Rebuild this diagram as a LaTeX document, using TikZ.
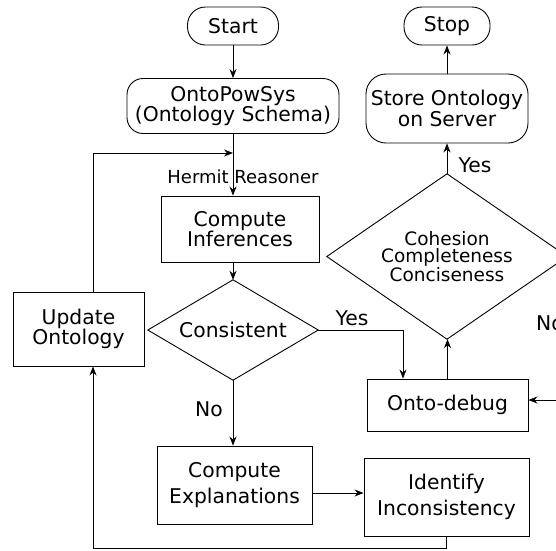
\documentclass[tikz,border=0pt]{standalone}
\usepackage{fontspec}
\setmainfont{DejaVu Sans}
\usetikzlibrary{arrows.meta}
\begin{document}
\begin{tikzpicture}[x=1pt,y=-1pt,
  every node/.style={font=\fontsize{20.3}{20.5}\selectfont, inner sep=0pt, align=center},
  term/.style={draw, line width=0.9pt, rounded corners=18pt},
  box/.style={draw, line width=0.9pt},
  decarea/.style={rectangle},
  edge/.style={line width=0.9pt, line join=miter},
  conn/.style={draw, line width=0.9pt, -{Stealth[length=9pt,width=7pt]}},
  lbl/.style={font=\fontsize{20.3}{20.5}\selectfont}
]
\path[use as bounding box, clip] (0,0) rectangle (556,550);

% nodes
\node[term, minimum width=91pt, minimum height=38pt] (start) at (233,26) {Start};
\node[term, rounded corners=16pt, minimum width=212pt, minimum height=55pt] (onto) at (233,106) {OntoPowSys\\(Ontology Schema)};
\node[box, minimum width=158pt, minimum height=66pt] (inf) at (240,229) {Compute\\Inferences};
\node[decarea, minimum width=170pt, minimum height=100pt] (cons) at (233,330) {Consistent};
\node[box, minimum width=131pt, minimum height=74pt] (upd) at (78.5,329) {Update\\Ontology};
\node[box, minimum width=155pt, minimum height=78pt, font=\fontsize{20.3}{26.5}\selectfont] (expl) at (234.5,485) {Compute\\Explanations};
\node[box, minimum width=165pt, minimum height=78pt, font=\fontsize{20.3}{26.5}\selectfont] (ident) at (446.5,497) {Identify\\Inconsistency};
\node[box, minimum width=161pt, minimum height=52pt] (debug) at (447.5,405) {Onto-debug};
\node[decarea, minimum width=240pt, minimum height=165pt, font=\fontsize{18.5}{17.5}\selectfont] (coh) at (447,256.5) {Cohesion\\Completeness\\Conciseness};
\node[term, rounded corners=20pt, minimum width=162pt, minimum height=69pt] (store) at (447,108.5) {Store Ontology\\on Server};
\node[term, minimum width=86pt, minimum height=38pt] (stop) at (447,26) {Stop};

% diamond outlines
\draw[edge] (cons.north) -- (cons.east) -- (cons.south) -- (cons.west) -- cycle;
\draw[edge] (coh.north) -- (coh.east) -- (coh.south) -- (coh.west) -- cycle;

% helper coordinates
\coordinate (fb) at (233,153);
\coordinate (lb) at (93,548);
\coordinate (nr) at (600,256.5);

% connectors
\draw[conn] (start) -- (onto);
\draw[conn] (onto.south) -- (onto.south |- inf.north);
\draw[conn] ([xshift=14.5pt]upd.north) |- (fb);
\draw[conn] (inf.south -| cons.north) -- (cons.north);
\draw[conn] (cons.east) -| ([xshift=-44.5pt]debug.north);
\draw[conn] (cons.south) -- (cons.south |- expl.north);
\draw[conn] ([yshift=4pt]ident.west -| expl.east) -- ([yshift=4pt]ident.west);
\draw[conn] (ident.south) |- (lb) -- ([xshift=14.5pt]upd.south);
\draw[conn] (debug.north) -- (debug.north |- coh.south);
\draw[conn] (coh.north) -- (store.south);
\draw[conn] (store.north) -- (stop.south);
\draw[conn] (coh.east) -- (nr) |- ([yshift=5pt]debug.east);

% labels
\node[font=\fontsize{18}{18}\selectfont] (hr) at (243,177) {Hermit Reasoner};
\node[lbl] (yes1) at (352,318) {Yes};
\node[lbl] (no1) at (209,409) {No};
\node[lbl] (yes2) at (475,165) {Yes};
\node[lbl] (no2) at (550,323) {No};
\end{tikzpicture}
\end{document}
